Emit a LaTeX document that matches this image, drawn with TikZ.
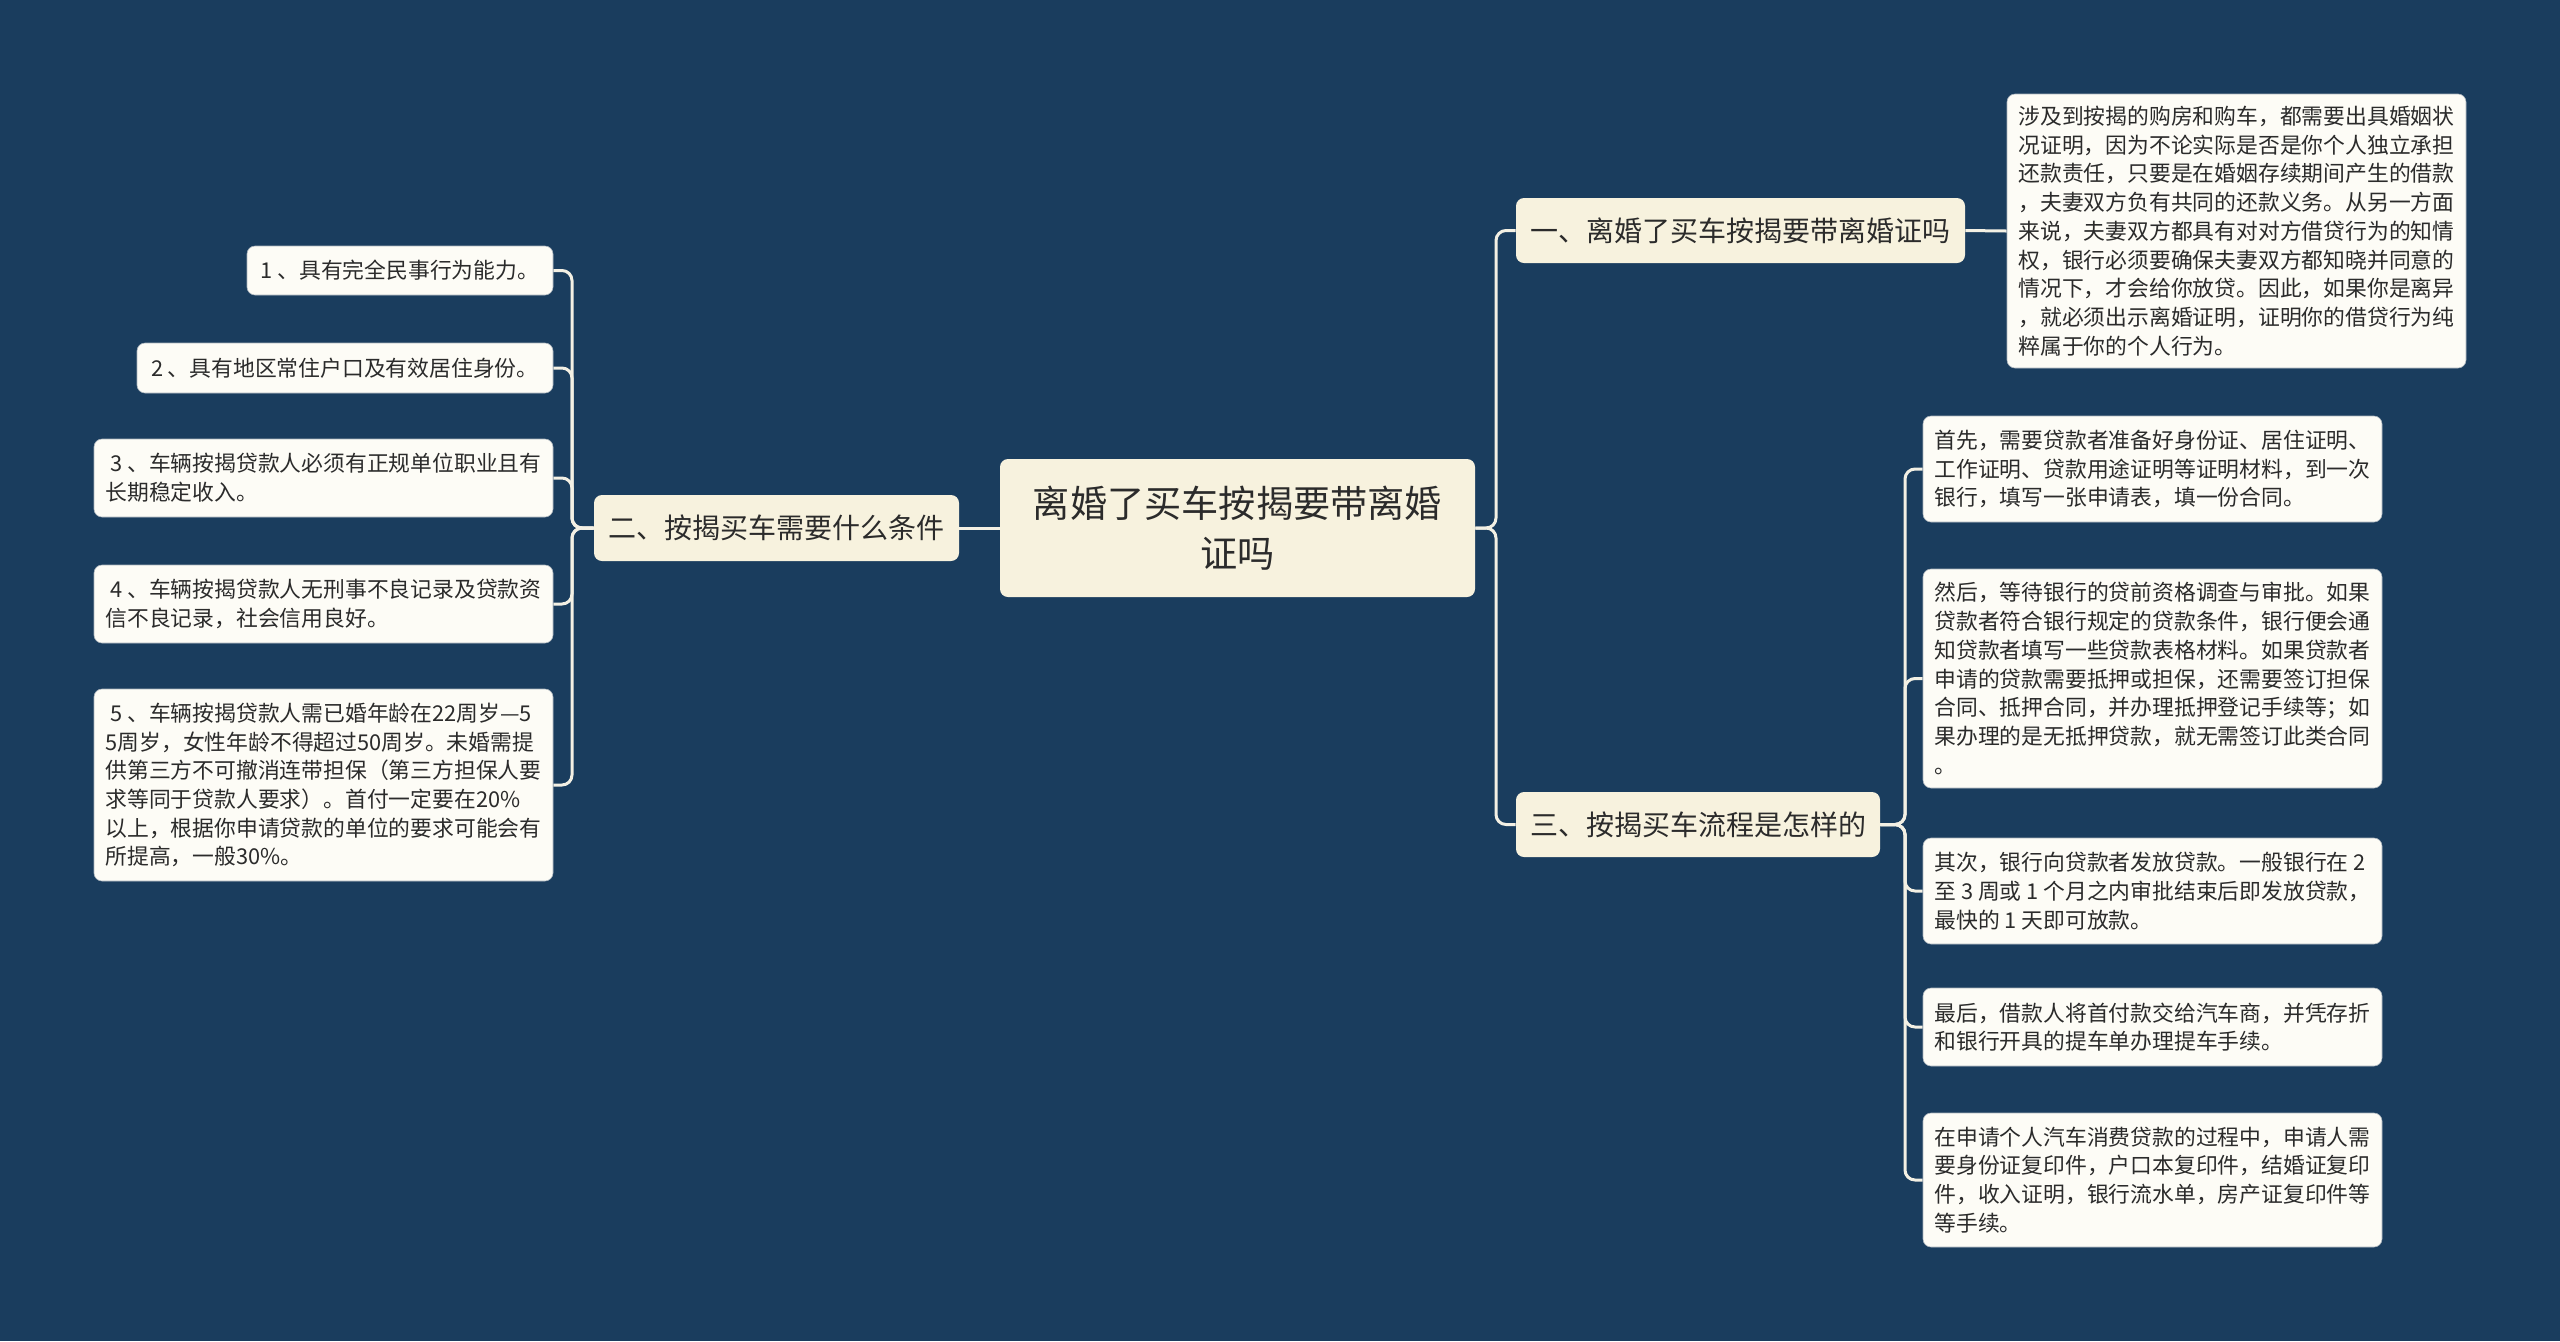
\documentclass[tikz,border=0pt]{standalone}
\usepackage{fontspec}
\setmainfont{Noto Sans CJK SC}
\usetikzlibrary{calc}
\definecolor{bg}{HTML}{1A3D5E}
\definecolor{mainbg}{HTML}{F7F2DE}
\definecolor{leafbg}{HTML}{FDFCF6}
\definecolor{txt}{HTML}{2B2B2B}
\definecolor{lnk}{HTML}{F3F0E4}
\definecolor{edgec}{HTML}{A9B3BB}
\pgfdeclarelayer{background}
\pgfsetlayers{background,main}
\begin{document}
\begin{tikzpicture}[x=0.5pt,y=-0.5pt,
 conn/.style={draw=lnk, line width=1.5pt, rounded corners=5pt},
 box/.style={rounded corners=4pt, inner sep=0pt, text=txt, align=left},
 centerbox/.style={box, fill=mainbg, align=center, font=\fontsize{18.6pt}{25pt}\selectfont},
 branch/.style={box, fill=mainbg, font=\fontsize{14pt}{17pt}\selectfont},
 leaf/.style={box, fill=leafbg, draw=edgec, line width=0.3pt, font=\fontsize{10.9pt}{14.35pt}\selectfont},
]
\useasboundingbox (0,0) rectangle (2560,1341);

% centre and branches
\node[centerbox, minimum width=237.5pt, minimum height=69pt] (c) at (1237.5,528) {离婚了买车按揭要带离婚\\证吗};
\node[branch, minimum width=224.5pt, minimum height=32.5pt] (b1) at (1740.5,230.5) {一、离婚了买车按揭要带离婚证吗};
\node[branch, minimum width=182.5pt, minimum height=33pt] (b2) at (776.5,528) {二、按揭买车需要什么条件};
\node[branch, minimum width=182pt, minimum height=32.5pt] (b3) at (1698,824.5) {三、按揭买车流程是怎样的};

% leaf of branch 1
\node[leaf, minimum width=229.5pt, minimum height=137pt] (r1) at (2236.5,231) {涉及到按揭的购房和购车，都需要出具婚姻状\\况证明，因为不论实际是否是你个人独立承担\\还款责任，只要是在婚姻存续期间产生的借款\\，夫妻双方负有共同的还款义务。从另一方面\\来说，夫妻双方都具有对对方借贷行为的知情\\权，银行必须要确保夫妻双方都知晓并同意的\\情况下，才会给你放贷。因此，如果你是离异\\，就必须出示离婚证明，证明你的借贷行为纯\\粹属于你的个人行为。};

% leaves of branch 2
\node[leaf, minimum width=153pt, minimum height=24.5pt] (l1) at (400,270.5) {1\hspace{0.2em}、具有完全民事行为能力。};
\node[leaf, minimum width=208pt, minimum height=25pt] (l2) at (345,368) {2\hspace{0.2em}、具有地区常住户口及有效居住身份。};
\node[leaf, minimum width=229.5pt, minimum height=39pt] (l3) at (323.5,478) {\hspace{0.25em}3\hspace{0.2em}、车辆按揭贷款人必须有正规单位职业且有\\长期稳定收入。};
\node[leaf, minimum width=229.5pt, minimum height=39pt] (l4) at (323.5,604) {\hspace{0.25em}4\hspace{0.2em}、车辆按揭贷款人无刑事不良记录及贷款资\\信不良记录，社会信用良好。};
\node[leaf, minimum width=229.5pt, minimum height=96pt] (l5) at (323.5,785) {\hspace{0.25em}5\hspace{0.2em}、车辆按揭贷款人需已婚年龄在22周岁—5\\5周岁，女性年龄不得超过50周岁。未婚需提\\供第三方不可撤消连带担保（第三方担保人要\\求等同于贷款人要求）。首付一定要在20\%\\以上，根据你申请贷款的单位的要求可能会有\\所提高，一般30\%。};

% leaves of branch 3
\node[leaf, minimum width=229.5pt, minimum height=53pt] (ra) at (2152.5,469) {首先，需要贷款者准备好身份证、居住证明、\\工作证明、贷款用途证明等证明材料，到一次\\银行，填写一张申请表，填一份合同。};
\node[leaf, minimum width=229.5pt, minimum height=109.5pt] (rb) at (2152.5,678.5) {然后，等待银行的贷前资格调查与审批。如果\\贷款者符合银行规定的贷款条件，银行便会通\\知贷款者填写一些贷款表格材料。如果贷款者\\申请的贷款需要抵押或担保，还需要签订担保\\合同、抵押合同，并办理抵押登记手续等；如\\果办理的是无抵押贷款，就无需签订此类合同\\。};
\node[leaf, minimum width=229.5pt, minimum height=53pt] (rc) at (2152.5,891) {其次，银行向贷款者发放贷款。一般银行在 2\\至 3 周或 1 个月之内审批结束后即发放贷款，\\最快的 1 天即可放款。};
\node[leaf, minimum width=229.5pt, minimum height=39pt] (rd) at (2152.5,1027) {最后，借款人将首付款交给汽车商，并凭存折\\和银行开具的提车单办理提车手续。};
\node[leaf, minimum width=229.5pt, minimum height=67pt] (re) at (2152.5,1180) {在申请个人汽车消费贷款的过程中，申请人需\\要身份证复印件，户口本复印件，结婚证复印\\件，收入证明，银行流水单，房产证复印件等\\等手续。};

% spine coordinates
\coordinate (sM) at (1496,0);
\coordinate (sL) at (572,0);
\coordinate (sR) at (1905,0);

\begin{pgfonlayer}{background}
\fill[bg] (0,0) rectangle (2560,1341);
\draw[conn] (c.west) -- (b2.east);
\draw[conn] (c.east) -- (c.east -| sM) |- (b1.west);
\draw[conn] (c.east) -- (c.east -| sM) |- (b3.west);
\draw[conn] (b1.east) -- (r1.west);
\foreach \n in {l1,l2,l3,l4,l5}
  \draw[conn] (b2.west) -- (b2.west -| sL) |- (\n.east);
\foreach \n in {ra,rb,rc,rd,re}
  \draw[conn] (b3.east) -- (b3.east -| sR) |- (\n.west);
\end{pgfonlayer}
\end{tikzpicture}
\end{document}
